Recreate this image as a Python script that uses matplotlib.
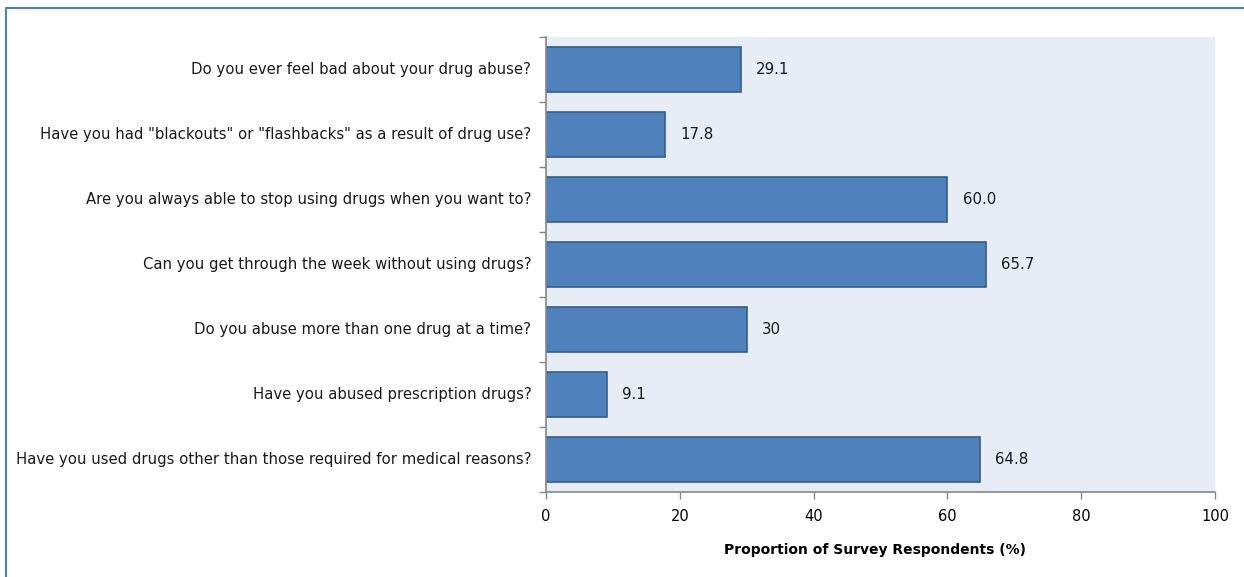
import matplotlib
matplotlib.use("Agg")
import matplotlib.pyplot as plt
from matplotlib.patches import Rectangle
import numpy as np

questions = [
    "Do you ever feel bad about your drug abuse?",
    'Have you had "blackouts" or "flashbacks" as a result of drug use?',
    "Are you always able to stop using drugs when you want to?",
    "Can you get through the week without using drugs?",
    "Do you abuse more than one drug at a time?",
    "Have you abused prescription drugs?",
    "Have you used drugs other than those required for medical reasons?",
]
values = [29.1, 17.8, 60.0, 65.7, 30, 9.1, 64.8]
value_labels = ["29.1", "17.8", "60.0", "65.7", "30", "9.1", "64.8"]
x_ticks = [0, 20, 40, 60, 80, 100]

plt.rcParams["font.family"] = ["DejaVu Sans"]

fig = plt.figure(figsize=(12.44, 5.77), dpi=100)
ax = fig.add_axes([0.4389, 0.1473, 0.5378, 0.7886])
ax.set_facecolor("#E8ECF4")

y = np.arange(len(questions))
ax.barh(y, values, height=0.68, color="#4F81BD", edgecolor="#385D8A", linewidth=1.2, zorder=2)
for yi, v, lab in zip(y, values, value_labels):
    ax.text(v + 2.3, yi, lab, va="center", ha="left", fontsize=10.8, color="#1a1a1a")

ax.set_ylim(len(questions) - 0.5, -0.5)
ax.set_xlim(0, 100)
ax.set_xticks(x_ticks)
ax.set_xticklabels([str(t) for t in x_ticks], fontsize=10.5)

# category labels placed at bar centres, ticks drawn at category boundaries
ax.set_yticks(np.arange(-0.5, len(questions), 1.0))
ax.set_yticklabels([])
ax.tick_params(axis="y", length=5, width=1, color="#868686", direction="out")
for yi, q in zip(y, questions):
    ax.text(-0.022, yi, q, transform=ax.get_yaxis_transform(), ha="right", va="center",
            fontsize=10.7, color="#1a1a1a")
ax.tick_params(axis="x", length=5, width=1, color="#868686", direction="out", pad=7)

for s in ["top", "right"]:
    ax.spines[s].set_visible(False)
for s in ["left", "bottom"]:
    ax.spines[s].set_color("#868686")
    ax.spines[s].set_linewidth(1.2)

ax.set_xlabel("Proportion of Survey Respondents (%)", fontsize=10, fontweight="bold")
ax.xaxis.set_label_coords(0.492, -0.113, transform=ax.transAxes)
ax.xaxis.label.set_va("top")

fig.patches.append(Rectangle((6 / 1244, -0.1), 1.2, 1.1 - 8 / 577, transform=fig.transFigure,
                             fill=False, edgecolor="#4F81BD", linewidth=1.5))

fig.savefig("out.png", dpi=100)
